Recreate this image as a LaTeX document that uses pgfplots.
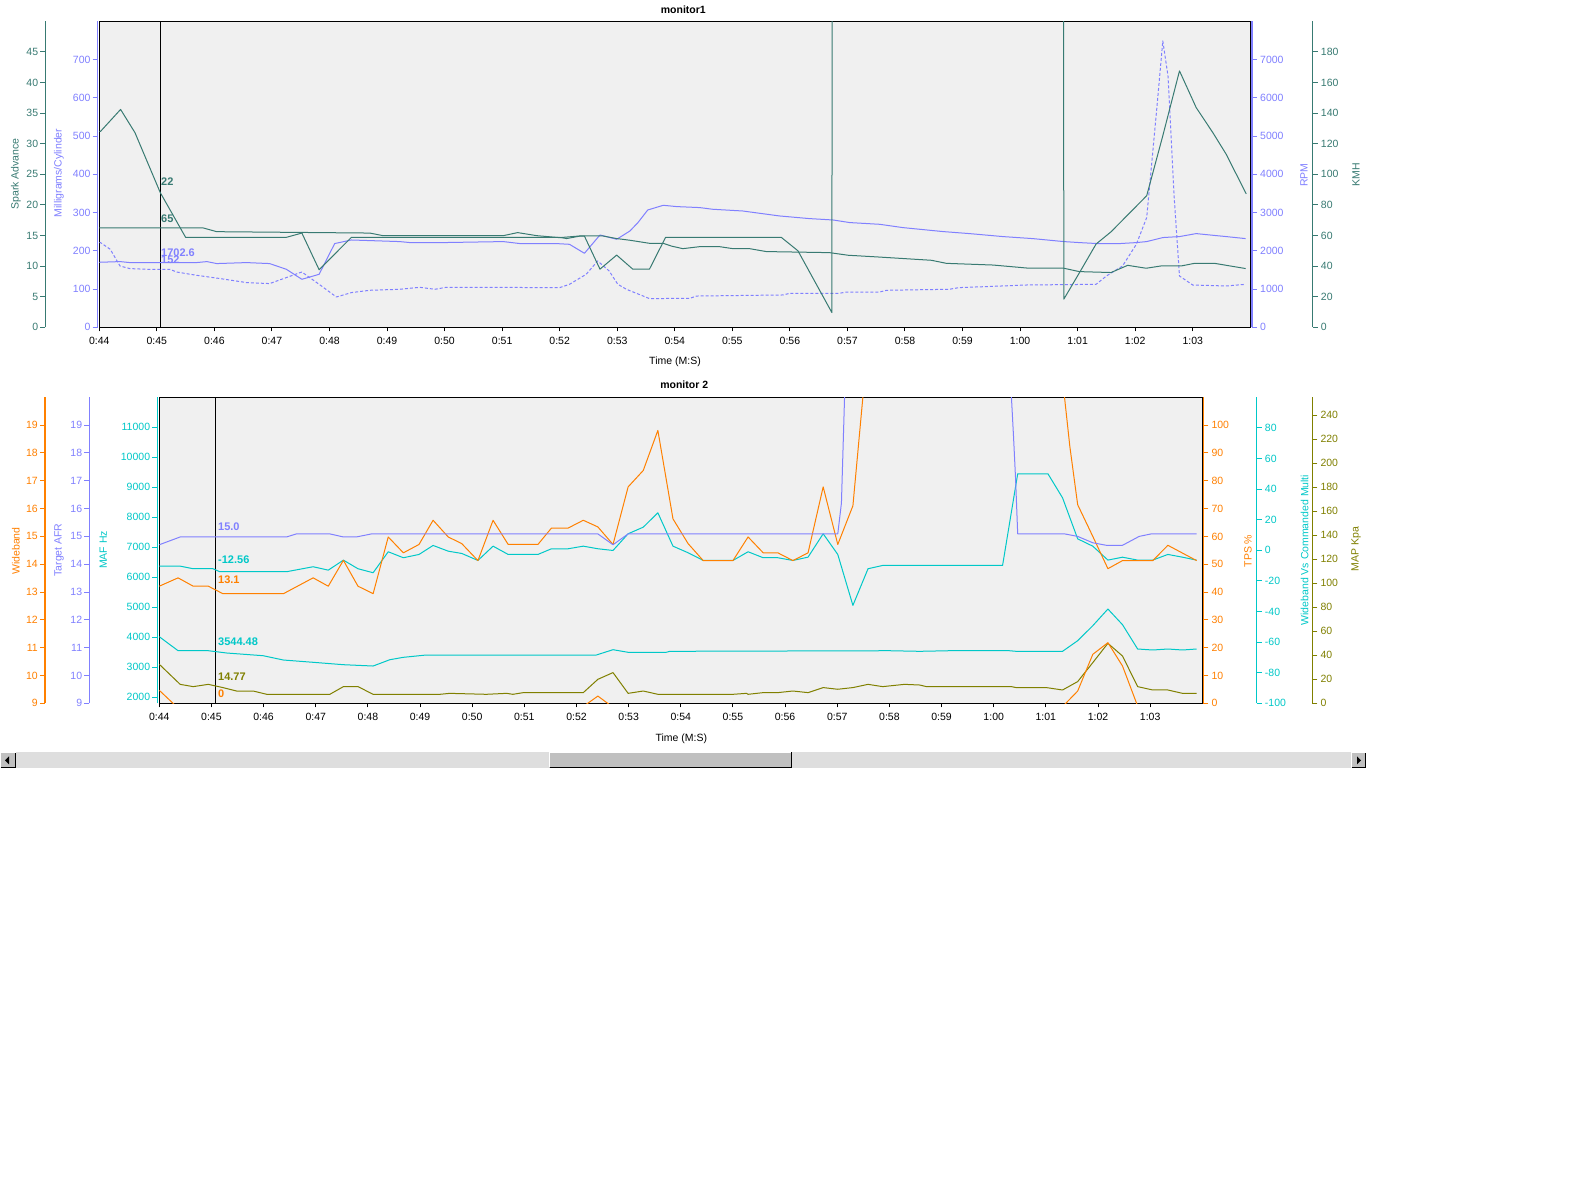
\documentclass[border=0pt]{standalone}
\usepackage{pgfplots}
\usepackage{pgfplotstable}
\pgfplotsset{compat=1.18}
\usepackage{fontspec}
\setmainfont{Liberation Sans}
\definecolor{tl}{RGB}{56,122,114}
\definecolor{pu}{RGB}{128,128,255}
\definecolor{og}{RGB}{255,128,0}
\definecolor{cy}{RGB}{0,200,200}
\definecolor{ol}{RGB}{128,128,0}
\definecolor{bgc}{RGB}{240,240,240}
\definecolor{sbg}{RGB}{192,192,192}
\definecolor{strk}{RGB}{222,222,222}
\newcommand\tf{\fontsize{10.5}{12}\selectfont}
\newcommand\vf{\fontsize{11}{13}\selectfont\bfseries}

% ---------------- monitor1 data ----------------
\pgfplotstableread{
t v
44.00 32
44.02 32
44.37 35.6
44.62 31.8
45.06 22
45.50 14.7
47.25 14.7
47.52 15.4
47.82 9.4
48.38 14.7
52.00 14.7
52.12 14.5
52.35 14.9
52.43 14.9
52.70 9.5
52.99 11.8
53.27 9.5
53.56 9.5
53.84 14.7
55.85 14.7
56.14 12.5
56.73 2.4
56.735 70
60.755 70
60.76 4.6
61.03 8.9
61.32 13.6
61.58 15.6
62.20 21.5
62.48 31.3
62.77 41.9
63.06 35.9
63.35 31.8
63.58 28.3
63.93 21.8
}\spark
\pgfplotstableread{
t v
44.00 65
45.80 65
46.04 62.5
48.70 61.6
48.93 59.9
51.02 59.9
51.27 61.9
51.60 59.9
52.00 58.6
52.35 59.7
52.75 59.7
52.99 58.0
53.22 56.9
53.56 54.9
53.80 54.9
53.94 53.1
54.14 51.4
54.43 52.7
54.78 52.7
55.01 51.4
55.30 51.4
55.59 49.5
56.69 48.8
57.01 47.1
57.56 45.9
58.46 43.8
58.72 41.8
59.53 40.7
60.16 38.6
60.76 38.6
61.03 36.4
61.58 35.8
61.87 40.5
62.19 38.6
62.45 40.1
62.80 40.1
63.03 41.8
63.38 41.8
63.92 38.4
}\kmh
\pgfplotstableread{
t v
44.00 1700
44.36 1718
44.53 1692
45.69 1692
45.87 1718
46.04 1666
46.56 1692
46.96 1666
47.25 1517
47.52 1255
47.82 1386
48.09 2189
48.38 2283
49.22 2241
49.40 2215
49.97 2215
51.02 2241
51.31 2189
51.94 2189
52.17 2170
52.43 1935
52.70 2414
52.99 2301
53.22 2518
53.36 2738
53.53 3067
53.80 3190
54.03 3156
54.43 3130
54.66 3086
55.18 3041
55.82 2911
56.34 2842
56.75 2806
57.04 2738
57.56 2693
57.96 2607
58.66 2503
59.12 2450
59.70 2372
60.22 2319
60.76 2241
61.03 2215
61.35 2189
61.73 2189
62.02 2215
62.20 2241
62.48 2346
62.77 2372
63.06 2450
63.35 2406
63.58 2372
63.92 2319
}\rpm
\pgfplotstableread{
t v
44.00 221.5
44.02 221.5
44.19 204
44.36 160.3
44.53 153.5
44.82 151.7
45.23 151.7
45.34 144.6
45.69 136
46.10 127.4
46.56 116.9
46.96 114.3
47.25 130
47.52 144.6
47.82 112.4
48.12 79.2
48.38 90.7
48.70 96.8
49.22 99.4
49.57 104.6
49.83 99.4
50.03 104.6
52.00 103.8
52.17 112.4
52.46 138.6
52.66 173.4
52.86 147.2
53.01 112.4
53.16 99.4
53.45 81.8
53.56 75
54.26 75.8
54.38 81.8
55.88 84.5
56.00 88.9
56.86 88.9
56.98 92.3
57.56 92.3
57.68 96.8
58.77 99.4
58.94 103.8
59.41 106.4
60.11 110.6
61.32 112.4
61.50 134.1
61.78 160.3
62.02 217
62.20 286.9
62.31 465.5
62.39 596.2
62.48 748.7
62.57 657.2
62.68 334.7
62.77 134.1
63.00 110.6
63.58 108
63.92 112.4
}\mgc

% ---------------- monitor 2 data ----------------
\pgfplotstableread{
t v
44.00 14.70
44.40 14.98
46.44 14.98
46.63 15.09
47.27 15.09
47.53 14.98
47.78 14.98
48.07 15.09
52.41 15.09
52.70 14.70
52.99 15.09
57.01 15.09
57.08 16.2
57.14 20.0
57.15 30
60.33 30
60.34 20.0
60.38 18.59
60.42 17.04
60.46 15.09
61.36 15.09
61.61 15.0
61.90 14.77
62.16 14.68
62.47 14.68
62.79 15.0
63.02 15.09
63.89 15.09
}\afr
\pgfplotstableread{
t v
44.00 13.21
44.36 13.51
44.65 13.21
44.94 13.21
45.22 12.94
46.38 12.94
46.95 13.51
47.24 13.21
47.53 14.14
47.81 13.21
48.10 12.94
48.39 14.98
48.68 14.41
48.98 14.71
49.25 15.58
49.54 14.98
49.80 14.74
50.11 14.13
50.40 15.58
50.69 14.71
51.26 14.71
51.52 15.30
51.84 15.30
52.13 15.58
52.41 15.34
52.70 14.71
52.99 16.78
53.28 17.37
53.56 18.81
53.85 15.63
54.14 14.74
54.43 14.13
55.00 14.13
55.29 14.98
55.58 14.41
55.86 14.41
56.15 14.13
56.44 14.41
56.73 16.78
57.01 14.71
57.30 16.10
57.54 21
61.30 21
61.46 18.23
61.61 16.14
61.90 15.0
62.19 13.84
62.47 14.13
63.05 14.13
63.34 14.68
63.89 14.13
}\wb
\pgfplotstableread{
t v
44.00 4.66
44.32 -1
52.14 -1
52.41 2.6
52.67 -1
61.33 -1
61.61 4.4
61.90 17.6
62.19 21.8
62.47 13.4
62.76 -1
63.89 -1
}\tps
\pgfplotstableread{
t v
44.00 -10.35
44.40 -10.35
44.65 -12.05
45.03 -12.05
45.16 -14.0
46.44 -14.0
46.95 -10.74
47.24 -12.96
47.53 -6.43
47.81 -12.05
48.10 -14.66
48.39 -0.95
48.68 -4.86
48.98 -2.71
49.25 3.17
49.54 -0.56
49.80 -2.06
50.11 -6.63
50.40 2.71
50.69 -2.71
51.26 -2.71
51.52 1.01
51.84 1.01
52.13 2.71
52.41 1.01
52.70 -0.10
52.99 10.81
53.28 15.12
53.56 24.52
53.85 2.71
54.14 -1.60
54.43 -6.63
55.00 -6.63
55.29 -0.95
55.58 -4.86
55.86 -4.86
56.15 -6.63
56.44 -4.47
56.73 10.81
57.01 -2.71
57.30 -36.0
57.59 -12.05
57.87 -9.9
60.17 -9.9
60.46 50.0
61.04 50.0
61.32 34.3
61.61 7.5
61.90 2.7
62.19 -6.4
62.47 -4.5
62.76 -6.4
63.05 -6.4
63.34 -2.7
63.62 -4.5
63.89 -6.4
}\wbc
\pgfplotstableread{
t v
44.00 4020
44.36 3553
44.94 3553
45.29 3477
45.99 3387
46.38 3243
46.95 3167
47.53 3087
48.10 3043
48.42 3253
48.68 3333
49.12 3410
52.00 3410
52.38 3410
52.70 3587
52.99 3500
53.72 3500
53.79 3533
58.00 3553
58.58 3533
59.15 3553
60.30 3553
60.43 3533
61.32 3533
61.61 3887
61.90 4387
62.19 4943
62.47 4420
62.76 3610
63.05 3577
63.34 3610
63.62 3577
63.89 3610
}\maf
\pgfplotstableread{
t v
44.00 32.5
44.40 15.8
44.65 13.9
44.94 15.8
45.22 13.1
45.48 10.25
45.80 10.25
46.06 7.5
47.27 7.5
47.53 13.9
47.81 13.9
48.10 7.5
49.38 7.5
49.57 8.3
50.27 7.5
50.66 8.3
50.78 7.5
50.98 8.9
52.13 8.9
52.41 20.0
52.70 25.6
52.99 8.3
53.28 10.25
53.56 7.5
55.00 7.5
55.26 8.3
55.29 7.5
55.58 8.9
55.86 8.9
56.15 10.25
56.44 8.9
56.73 13.1
57.01 11.7
57.30 13.1
57.59 15.8
57.87 13.9
58.29 15.8
58.58 15.25
58.71 13.9
60.34 13.9
60.43 13.1
61.01 13.1
61.32 11.1
61.61 18.1
61.90 33.9
62.19 50
62.47 39.4
62.76 13.9
63.05 11.1
63.34 11.1
63.62 8.3
63.89 8.3
}\mapk

\pgfplotsset{
  numfmt/.style={/pgf/number format/assume math mode=true,
     /pgf/number format/set thousands separator={},
     /pgf/number format/fixed, scaled y ticks=false},
  topbox/.style={scale only axis, width=1151pt, height=306pt,
     at={(99.3pt,-327.3pt)}, anchor=south west, xmin=44, xmax=64},
  botbox/.style={scale only axis, width=1043pt, height=306pt,
     at={(159.3pt,-703.3pt)}, anchor=south west, xmin=44, xmax=64},
  frame/.style={axis background/.style={fill=bgc},
     axis line style={black, line width=1.5pt}, ytick=\empty,
     xtick={44,...,63},
     xticklabels={0:44,0:45,0:46,0:47,0:48,0:49,0:50,0:51,0:52,0:53,0:54,0:55,0:56,0:57,0:58,0:59,1:00,1:01,1:02,1:03},
     xtick pos=bottom, tick align=outside, major tick length=4pt,
     tick style={black, line width=1pt},
     xticklabel style={font=\tf, text=black, yshift=-2pt}},
  yonly/.style={numfmt, scale only axis, width=20pt, height=306pt,
     xmin=0, xmax=1, hide x axis, tick align=outside, major tick length=5pt,
     yticklabel style={font=\tf, inner sep=2pt}},
  yl/.style={yonly, axis y line*=left, anchor=south west,
     axis line style={#1, line width=1.5pt}, tick style={#1, line width=1pt},
     yticklabel style={text=#1}},
  yr/.style={yonly, axis y line*=right, anchor=south east,
     axis line style={#1, line width=1.5pt}, tick style={#1, line width=1pt},
     yticklabel style={text=#1, inner sep=3pt}},
  ln/.style={#1, line width=1pt, line join=round},
}

\begin{document}
\begin{tikzpicture}
\useasboundingbox (0pt,0pt) rectangle (1592pt,-1194pt);
\fill[white] (0pt,0pt) rectangle (1592pt,-1194pt);

% ================= monitor1 =================
\begin{axis}[topbox, frame, ymin=0, ymax=1]
\addplot[ln=black] coordinates {(45.06,0) (45.06,1)};
\end{axis}
\begin{axis}[topbox, hide axis, ymin=0, ymax=800]
\addplot[ln=pu, dash pattern=on 3pt off 2pt] table {\mgc};
\end{axis}
\begin{axis}[topbox, hide axis, ymin=0, ymax=8000]
\addplot[ln=pu] table {\rpm};
\end{axis}
\begin{axis}[topbox, hide axis, ymin=0, ymax=200]
\addplot[ln=tl] table {\kmh};
\end{axis}
\begin{axis}[topbox, hide axis, ymin=0, ymax=50]
\addplot[ln=tl] table {\spark};
\end{axis}

\begin{axis}[yl=tl, at={(45.3pt,-327.3pt)}, ymin=0, ymax=50, ytick={0,5,...,45}]
\end{axis}
\begin{axis}[yl=pu, at={(97.7pt,-327.3pt)}, ymin=0, ymax=800, ytick={0,100,...,700}]
\end{axis}
\begin{axis}[yr=pu, at={(1252pt,-327.3pt)}, ymin=0, ymax=8000, ytick={0,1000,...,7000}]
\end{axis}
\begin{axis}[yr=tl, at={(1312.7pt,-327.3pt)}, ymin=0, ymax=200, ytick={0,20,...,180}]
\end{axis}

\node[font=\tf\bfseries] at (683.3pt,-9.3pt) {monitor1};
\node[font=\tf] at (675pt,-361.7pt) {Time (M:S)};
\node[font=\tf, text=tl, rotate=90] at (15.8pt,-174pt) {Spark Advance};
\node[font=\tf, text=pu, rotate=90] at (59pt,-173pt) {Milligrams/Cylinder};
\node[font=\tf, text=pu, rotate=90] at (1304pt,-175pt) {RPM};
\node[font=\tf, text=tl, rotate=90] at (1356pt,-174.5pt) {KMH};

\node[font=\vf, text=tl, anchor=west, inner sep=0pt] at (161pt,-182pt) {22};
\node[font=\vf, text=tl, anchor=west, inner sep=0pt] at (161pt,-219pt) {65};
\node[font=\vf, text=pu, anchor=west, inner sep=0pt] at (161pt,-259.5pt) {152};
\node[font=\vf, text=pu, anchor=west, inner sep=0pt] at (161pt,-252.5pt) {1702.6};

% ================= monitor 2 =================
\begin{axis}[botbox, frame, ymin=0, ymax=1]
\addplot[ln=black] coordinates {(45.07,0) (45.07,1)};
\end{axis}
\begin{axis}[botbox, hide axis, ymin=0, ymax=255]
\addplot[ln=ol] table {\mapk};
\end{axis}
\begin{axis}[botbox, hide axis, ymin=1800, ymax=12000]
\addplot[ln=cy] table {\maf};
\end{axis}
\begin{axis}[botbox, hide axis, ymin=0, ymax=110]
\addplot[ln=og] table {\tps};
\end{axis}
\begin{axis}[botbox, hide axis, ymin=-100, ymax=100]
\addplot[ln=cy] table {\wbc};
\end{axis}
\begin{axis}[botbox, hide axis, ymin=9, ymax=20]
\addplot[ln=og] table {\wb};
\end{axis}
\begin{axis}[botbox, hide axis, ymin=9, ymax=20]
\addplot[ln=pu] table {\afr};
\end{axis}

\begin{axis}[yl=og, at={(45pt,-703.3pt)}, ymin=9, ymax=20, ytick={9,10,...,19}]
\end{axis}
\begin{axis}[yl=pu, at={(89.3pt,-703.3pt)}, ymin=9, ymax=20, ytick={9,10,...,19}]
\end{axis}
\begin{axis}[yl=cy, at={(157.3pt,-703.3pt)}, ymin=1800, ymax=12000, ytick={2000,3000,...,11000}]
\end{axis}
\begin{axis}[yr=og, at={(1203.3pt,-703.3pt)}, ymin=0, ymax=110, ytick={0,10,...,100}]
\end{axis}
\begin{axis}[yr=cy, at={(1256.7pt,-703.3pt)}, ymin=-100, ymax=100, ytick={-100,-80,...,80}]
\end{axis}
\begin{axis}[yr=ol, at={(1312.3pt,-703.3pt)}, ymin=0, ymax=255, ytick={0,20,...,240}]
\end{axis}

\node[font=\tf\bfseries] at (684.2pt,-385pt) {monitor 2};
\node[font=\tf] at (681.3pt,-738.3pt) {Time (M:S)};
\node[font=\tf, text=og, rotate=90] at (15.8pt,-551pt) {Wideband};
\node[font=\tf, text=pu, rotate=90] at (59pt,-550pt) {Target AFR};
\node[font=\tf, text=cy, rotate=90] at (103.3pt,-550pt) {MAF Hz};
\node[font=\tf, text=og, rotate=90] at (1248pt,-551pt) {TPS \%};
\node[font=\tf, text=cy, rotate=90] at (1304.7pt,-550pt) {Wideband Vs Commanded Multi};
\node[font=\tf, text=ol, rotate=90] at (1356pt,-549pt) {MAP Kpa};

\node[font=\vf, text=pu, anchor=west, inner sep=0pt] at (218pt,-526.7pt) {15.0};
\node[font=\vf, text=cy, anchor=west, inner sep=0pt] at (218pt,-560pt) {-12.56};
\node[font=\vf, text=og, anchor=west, inner sep=0pt] at (218pt,-580pt) {13.1};
\node[font=\vf, text=cy, anchor=west, inner sep=0pt] at (218pt,-641.7pt) {3544.48};
\node[font=\vf, text=ol, anchor=west, inner sep=0pt] at (218pt,-676.7pt) {14.77};
\node[font=\vf, text=og, anchor=west, inner sep=0pt] at (218pt,-693.3pt) {0};

% ================= scroll bar =================
\fill[strk] (16pt,-752.3pt) rectangle (1351pt,-768.3pt);
% left button
\fill[sbg] (0pt,-752.3pt) rectangle (16pt,-768.3pt);
\draw[white, line width=1pt] (0.5pt,-767.8pt) -- (0.5pt,-752.8pt) -- (15.5pt,-752.8pt);
\draw[black, line width=1pt] (0.5pt,-767.8pt) -- (15.5pt,-767.8pt) -- (15.5pt,-752.8pt);
\fill[black] (5pt,-760.3pt) -- (9pt,-756.3pt) -- (9pt,-764.3pt) -- cycle;
% right button
\fill[sbg] (1351pt,-752.3pt) rectangle (1366pt,-768.3pt);
\draw[white, line width=1pt] (1351.5pt,-767.8pt) -- (1351.5pt,-752.8pt) -- (1365.5pt,-752.8pt);
\draw[black, line width=1pt] (1351.5pt,-767.8pt) -- (1365.5pt,-767.8pt) -- (1365.5pt,-752.8pt);
\fill[black] (1361pt,-760.3pt) -- (1357pt,-756.3pt) -- (1357pt,-764.3pt) -- cycle;
% thumb
\fill[sbg] (549.3pt,-751.7pt) rectangle (791.7pt,-767.7pt);
\draw[white, line width=1pt] (549.8pt,-767.2pt) -- (549.8pt,-752.2pt) -- (791.2pt,-752.2pt);
\draw[black, line width=1pt] (549.8pt,-767.2pt) -- (791.2pt,-767.2pt) -- (791.2pt,-752.2pt);
\end{tikzpicture}
\end{document}
